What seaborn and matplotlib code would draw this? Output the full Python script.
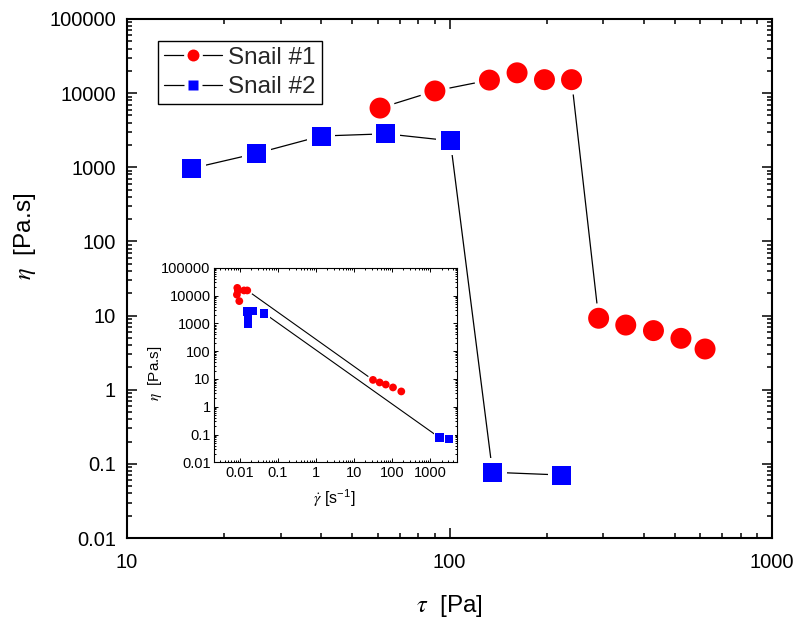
import numpy as np
import pandas as pd
import matplotlib
matplotlib.use("Agg")
import matplotlib.pyplot as plt
import seaborn as sns
from matplotlib.lines import Line2D
from matplotlib.ticker import LogLocator, FuncFormatter, NullFormatter

# ---------------- data ----------------
series_names = ["Snail #1", "Snail #2"]

tau_snail1 = [60.9, 90.1, 133, 162, 197, 239, 290, 352, 429, 522, 620]
eta_snail1 = [6290, 10700, 15000, 18800, 15200, 15200, 9.2, 7.45, 6.27, 4.93, 3.54]

tau_snail2 = [15.9, 25.2, 40.0, 63.5, 100.6, 136, 223]
eta_snail2 = [967, 1540, 2640, 2830, 2280, 0.077, 0.0707]

# inset: shear rate vs viscosity
gdot_snail1 = [0.0097, 0.0084, 0.0089, 0.0086, 0.0129, 0.0157, 31.6, 47.2, 68.4, 106, 175]
gdot_snail2 = [0.0164, 0.0164, 0.0152, 0.0224, 0.0441, 1770, 3150]

main_xticks = [10, 100, 1000]
main_yticks = [0.01, 0.1, 1, 10, 100, 1000, 10000, 100000]
inset_xticks = [0.01, 0.1, 1, 10, 100, 1000]
inset_yticks = [0.01, 0.1, 1, 10, 100, 1000, 10000, 100000]

colors = ["#FF0000", "#0000FF"]
markers = ["o", "s"]

# ---------------- style ----------------
sns.set_theme(style="ticks")
plt.rcParams["font.family"] = ["Liberation Sans", "DejaVu Sans"]
plt.rcParams["mathtext.fontset"] = "stix"
plt.rcParams["axes.grid"] = False

W, H = 796, 621
fig = plt.figure(figsize=(W / 100, H / 100), dpi=100)
fig.patch.set_facecolor("white")


def fmt(v, pos=None):
    if v >= 1:
        return f"{int(round(v))}"
    return f"{v:g}"


def draw_series(ax, x, y, color, marker, ms, halo, lw):
    df = pd.DataFrame({"x": x, "y": y})
    sns.lineplot(data=df, x="x", y="y", sort=False, estimator=None, color="black",
                 lw=lw, ax=ax, zorder=1, legend=False)
    sns.scatterplot(data=df, x="x", y="y", marker=marker, s=halo ** 2, color="white",
                    edgecolor="none", linewidth=0, ax=ax, zorder=2, legend=False)
    sns.scatterplot(data=df, x="x", y="y", marker=marker, s=ms ** 2, color=color,
                    edgecolor="none", linewidth=0, ax=ax, zorder=3, legend=False)


def style_axes(ax, xticks, yticks, lab_size, spine_w, maj_len, min_len, tick_w, xpad, ypad):
    ax.set_xscale("log")
    ax.set_yscale("log")
    ax.set_facecolor("white")
    for s in ax.spines.values():
        s.set_visible(True)
        s.set_linewidth(spine_w)
        s.set_color("black")
    ax.xaxis.set_major_locator(matplotlib.ticker.FixedLocator(xticks))
    ax.yaxis.set_major_locator(matplotlib.ticker.FixedLocator(yticks))
    ax.xaxis.set_minor_locator(LogLocator(base=10, subs=np.arange(2, 10), numticks=100))
    ax.yaxis.set_minor_locator(LogLocator(base=10, subs=np.arange(2, 10), numticks=100))
    ax.xaxis.set_major_formatter(FuncFormatter(fmt))
    ax.yaxis.set_major_formatter(FuncFormatter(fmt))
    ax.xaxis.set_minor_formatter(NullFormatter())
    ax.yaxis.set_minor_formatter(NullFormatter())
    ax.tick_params(which="both", direction="in", top=True, right=True, color="black",
                   width=tick_w, labelcolor="black")
    ax.tick_params(which="major", length=maj_len, labelsize=lab_size)
    ax.tick_params(which="minor", length=min_len)
    ax.tick_params(axis="x", which="major", pad=xpad)
    ax.tick_params(axis="y", which="major", pad=ypad)


# ---------------- main axes ----------------
ax = fig.add_axes([127 / W, (H - 538) / H, 645 / W, 519 / H])
ax.set_xscale("log")
ax.set_yscale("log")
main_taus = [tau_snail1, tau_snail2]
main_etas = [eta_snail1, eta_snail2]
main_ms = [15.1, 13.7]
main_halo = [21.5, 20.5]
for i in range(2):
    draw_series(ax, main_taus[i], main_etas[i], colors[i], markers[i], main_ms[i], main_halo[i], 0.9)
style_axes(ax, main_xticks, main_yticks, 14.5, 1.5, 7.2, 3.6, 1.1, 11, 8)
ax.set_xlim(10, 1000)
ax.set_ylim(0.01, 100000)
ax.set_xlabel(r"$\tau$  [Pa]", fontsize=17.5, color="black", va="center")
ax.set_ylabel(r"$\eta$  [Pa.s]", fontsize=17.5, color="black", va="center")
ax.xaxis.set_label_coords(0.5, -0.131)
ax.yaxis.set_label_coords(-0.158, 0.582)

# legend
handles = []
leg_ms = [8.6, 7.2]
leg_halo = [13.5, 12.5]
for i in range(2):
    ln = Line2D([], [], color="black", lw=0.9)
    hl = Line2D([], [], ls="none", marker=markers[i], ms=leg_halo[i], mfc="white", mec="none")
    mk = Line2D([], [], ls="none", marker=markers[i], ms=leg_ms[i], mfc=colors[i], mec="none")
    handles.append((ln, hl, mk))
leg = ax.legend(handles, series_names, loc="upper left", bbox_to_anchor=(0.048, 0.958),
                borderaxespad=0, fontsize=17.5, frameon=True, fancybox=False,
                framealpha=1, edgecolor="black", handlelength=2.4, handletextpad=0.25,
                labelspacing=0.3, borderpad=0.25)
leg.get_frame().set_linewidth(1.0)

# ---------------- inset ----------------
axi = fig.add_axes([214 / W, (H - 462.3) / H, 242.7 / W, 194.6 / H])
axi.set_xscale("log")
axi.set_yscale("log")
inset_gd = [gdot_snail1, gdot_snail2]
inset_ms = [5.6, 6.0]
inset_halo = [8.2, 8.6]
for i in range(2):
    draw_series(axi, inset_gd[i], main_etas[i], colors[i], markers[i], inset_ms[i], inset_halo[i], 0.8)
style_axes(axi, inset_xticks, inset_yticks, 10.5, 0.8, 2.9, 1.5, 0.7, 3, 2.5)
axi.set_xlim(0.0021, 5000)
axi.set_ylim(0.01, 100000)
axi.set_xlabel(r"$\dot{\gamma}$ [s$^{\mathregular{-1}}$]", fontsize=11.5, color="black", va="center")
axi.set_ylabel(r"$\eta$  [Pa.s]", fontsize=11, color="black", va="center")
axi.xaxis.set_label_coords(0.494, -0.183)
axi.yaxis.set_label_coords(-0.243, 0.459)

fig.savefig("out.png", dpi=100, facecolor="white")
